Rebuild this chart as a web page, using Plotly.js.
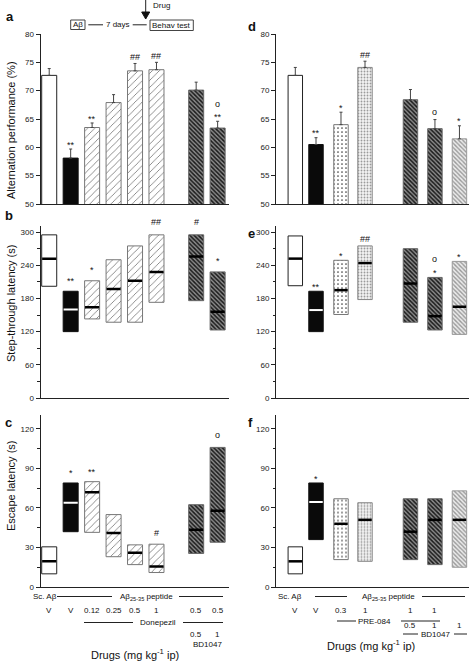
<!DOCTYPE html>
<html><head><meta charset="utf-8">
<script src="https://cdn.plot.ly/plotly-3.0.1.min.js"></script>
<style>html,body{margin:0;padding:0;background:#fff;} #chart{width:471px;height:662px;}</style>
</head><body><div id="chart"></div>
<script>
// ---------------- DATA ----------------
const groupsLeft  = ['Sc. Aβ V', 'Aβ V', 'Donepezil 0.12', 'Donepezil 0.25', 'Donepezil 0.5', 'Donepezil 1', 'Donepezil 0.5 + BD1047 0.5', 'Donepezil 0.5 + BD1047 1'];
const groupsRight = ['Sc. Aβ V', 'Aβ V', 'PRE-084 0.3', 'PRE-084 1', 'PRE-084 1 + BD1047 0.5', 'PRE-084 1 + BD1047 1', 'BD1047 1'];

// (a) alternation performance, mean and SEM (%)
const altMeanA = [72.7, 58.1, 63.5, 67.9, 73.5, 73.7, 70.1, 63.4];
const altSemA  = [1.2, 1.6, 0.8, 1.4, 1.3, 1.3, 1.4, 1.2];
const altSigA  = ['', '**', '**', '', '##', '##', '', '**'];
const altSig2A = ['', '', '', '', '', '', '', 'o'];
// (d)
const altMeanD = [72.7, 60.5, 64.0, 74.1, 68.4, 63.3, 61.5];
const altSemD  = [1.4, 1.2, 2.2, 1.1, 1.8, 1.6, 2.3];
const altSigD  = ['', '**', '*', '##', '', 'o', '*'];

// (b) step-through latency (s): median and interquartile range
const stlLowB  = [202, 120, 143, 137, 137, 173, 176, 123];
const stlMedB  = [252, 160, 164, 197, 212, 228, 256, 156];
const stlHighB = [295, 193, 212, 250, 275, 295, 295, 228];
const stlSigB  = ['', '**', '*', '', '', '##', '#', '*'];
// (e)
const stlLowE  = [203, 120, 151, 178, 137, 123, 115];
const stlMedE  = [252, 159, 195, 244, 207, 148, 165];
const stlHighE = [293, 193, 249, 275, 270, 218, 247];
const stlSigE  = ['', '**', '*', '##', '', '*', '*'];
const stlSig2E = ['', '', '', '', '', 'o', ''];

// (c) escape latency (s): median and interquartile range
const escLowC  = [10, 42, 41.5, 23, 17, 11, 25.5, 34];
const escMedC  = [19.5, 64, 72, 41, 26, 15.5, 43.5, 58];
const escHighC = [30.5, 79, 80, 55, 32, 32.5, 62.5, 106];
const escSigC  = ['', '*', '**', '', '', '#', '', 'o'];
// (f)
const escLowF  = [10, 36, 20.8, 19.5, 20.8, 17, 15];
const escMedF  = [19.5, 64.5, 48, 51, 42, 51, 51];
const escHighF = [30.5, 79, 67, 64, 67, 67, 73];
const escSigF  = ['', '*', '', '', '', '', ''];

// x-axis label rows
const doseRowLeft  = ['V', 'V', '0.12', '0.25', '0.5', '1', '0.5', '0.5'];
const bdRowLeft    = ['', '', '', '', '', '', '0.5', '1'];
const doseRowRight = ['V', 'V', '0.3', '1', '1', '1', ''];
const bdRowRight   = ['', '', '', '', '0.5', '1', '1'];

// ---------------- LAYOUT CONSTANTS ----------------
const W = 471, H = 662;
const FONT = '"Liberation Sans", Arial, Helvetica, sans-serif';
const px = x => x / W;
const py = y => 1 - y / H;

const slotsLeft  = [0, 1, 2, 3, 4, 5, 6.85, 7.85];
const slotsRight = [0, 0.845, 1.865, 2.845, 4.7, 5.7, 6.7];
const widthLeft = 0.70, widthRight = 0.59;
const stylesLeft  = ['white', 'black', 'hatch', 'hatch', 'hatch', 'hatch', 'dense', 'dense'];
const stylesRight = ['white', 'black', 'dots', 'dots2', 'dense', 'dense', 'light'];
const STYLE = {
  white: {color: '#ffffff', shape: '',   fg: '#000', size: 8, sol: 0.3,  line: '#222'},
  black: {color: '#0a0a0a', shape: '',   fg: '#000', size: 8, sol: 0.3,  line: '#111'},
  hatch: {color: '#ffffff', shape: '/',  fg: '#555', size: 5, sol: 0.13, line: '#777'},
  dense: {color: '#8c8c8c', shape: '\\', fg: '#1a1a1a', size: 3, sol: 0.5, line: '#666'},
  dots:  {color: '#ffffff', shape: '.',  fg: '#444', size: 4, sol: 0.15, line: '#777'},
  dots2: {color: '#f4f4f4', shape: '.',  fg: '#9a9a9a', size: 3, sol: 0.3,  line: '#888'},
  light: {color: '#ebebeb', shape: '\\', fg: '#999999', size: 3, sol: 0.45, line: '#999'}
};

// one trace per bar so each one keeps its own pattern colours
function barTraces(xa, ya, slots, styles, width, y, base, err) {
  return slots.map((s, i) => {
    const st = STYLE[styles[i]];
    const t = {
      type: 'bar', xaxis: xa, yaxis: ya, x: [s], y: [y[i]], width: width,
      marker: {color: st.color, line: {color: st.line, width: 1}},
      hoverinfo: 'skip', showlegend: false
    };
    if (st.shape) t.marker.pattern = {shape: st.shape, fgcolor: st.fg, bgcolor: st.color, size: st.size,
                                      solidity: st.sol, fillmode: 'replace'};
    if (base) t.base = [base[i]];
    if (err) t.error_y = {type: 'data', symmetric: false, array: [err[i]], arrayminus: [0],
                          color: '#444', thickness: 1, width: 1.5};
    return t;
  });
}
function boxTraces(xa, ya, slots, styles, width, low, med, high) {
  const out = barTraces(xa, ya, slots, styles, width, high.map((h, i) => h - low[i]), low, null);
  const dk = {x: [], y: []}, lt = {x: [], y: []};
  slots.forEach((s, i) => {
    const t = styles[i] === 'black' ? lt : dk;
    t.x.push(s - width / 2 + 0.02, s + width / 2 - 0.02, null);
    t.y.push(med[i], med[i], null);
  });
  out.push({type: 'scatter', mode: 'lines', xaxis: xa, yaxis: ya, x: dk.x, y: dk.y,
            line: {color: '#000', width: 2.5}, hoverinfo: 'skip', showlegend: false});
  out.push({type: 'scatter', mode: 'lines', xaxis: xa, yaxis: ya, x: lt.x, y: lt.y,
            line: {color: '#fff', width: 2}, hoverinfo: 'skip', showlegend: false});
  return out;
}
const GLYPH = {'*': 8.5, '#': 6.5, 'o': 5.5};
function sigAnns(xref, yref, slots, tops, labels, gap) {
  const out = [];
  labels.forEach((lab, i) => {
    if (!lab) return;
    out.push({xref: xref, yref: yref, x: slots[i], y: tops[i], text: lab, showarrow: false,
              yanchor: 'bottom', yshift: gap - GLYPH[lab[0]],
              font: {family: FONT, size: 9, color: '#111'}});
  });
  return out;
}

const traces = [];
traces.push(...barTraces('x', 'y', slotsLeft, stylesLeft, widthLeft, altMeanA, null, altSemA));
traces.push(...barTraces('x2', 'y2', slotsRight, stylesRight, widthRight, altMeanD, null, altSemD));
traces.push(...boxTraces('x3', 'y3', slotsLeft, stylesLeft, widthLeft, stlLowB, stlMedB, stlHighB));
traces.push(...boxTraces('x4', 'y4', slotsRight, stylesRight, widthRight, stlLowE, stlMedE, stlHighE));
traces.push(...boxTraces('x5', 'y5', slotsLeft, stylesLeft, widthLeft, escLowC, escMedC, escHighC));
traces.push(...boxTraces('x6', 'y6', slotsRight, stylesRight, widthRight, escLowF, escMedF, escHighF));

const yBase = {showline: true, linecolor: '#222', linewidth: 1, ticks: 'outside', ticklen: 4, tickcolor: '#222',
  tickwidth: 1, tickfont: {family: FONT, size: 8, color: '#222'}, showgrid: false, zeroline: false, fixedrange: true};
const xBase = {showline: true, linecolor: '#222', linewidth: 1, ticks: '', showticklabels: false,
  showgrid: false, zeroline: false, fixedrange: true};
const xL = {...xBase, domain: [px(40.5), px(229)], range: [-0.406, 8.38]};
const xR = {...xBase, domain: [px(276), px(469)], range: [-0.788, 7.09]};
const rowA = [py(204), py(34)], rowB = [py(398), py(226)], rowC = [py(587), py(414.5)];
const yAlt = {...yBase, range: [50, 80], dtick: 5, tick0: 50};
const yStl = {...yBase, range: [0, 311], dtick: 60, tick0: 0, minor: {dtick: 30, ticklen: 2.5, tickcolor: '#222', ticks: 'outside'}};
const yEsc = {...yBase, range: [0, 131], dtick: 30, tick0: 0, minor: {dtick: 15, ticklen: 2.5, tickcolor: '#222', ticks: 'outside'}};

const anns = [];
const A = (x, y, text, size, extra) => anns.push(Object.assign({xref: 'paper', yref: 'paper', x: px(x), y: py(y),
  text: text, showarrow: false, font: {family: FONT, size: size, color: '#111'}, xanchor: 'center', yanchor: 'middle'}, extra || {}));
// panel letters
A(4, 16, '<b>a</b>', 13, {xanchor: 'left'});
A(246, 26, '<b>d</b>', 13, {xanchor: 'left'});
A(3, 215, '<b>b</b>', 13, {xanchor: 'left'});
A(246, 233, '<b>e</b>', 13, {xanchor: 'left'});
A(3, 423, '<b>c</b>', 13, {xanchor: 'left'});
A(246, 423, '<b>f</b>', 13, {xanchor: 'left'});
// y titles
A(11, 130, 'Alternation performance (%)', 11, {textangle: -90});
A(11, 304, 'Step-through latency (s)', 11, {textangle: -90});
A(11, 486, 'Escape latency (s)', 11, {textangle: -90});
// schematic
A(151, 5.5, 'Drug', 8, {xanchor: 'left'});
A(77.8, 24.8, 'Aβ', 8);
A(118, 24.8, '7 days', 8);
A(171.7, 25.2, 'Behav test', 8);

// significance marks
const topsA = altMeanA.map((m, i) => m + altSemA[i]);
const topsD = altMeanD.map((m, i) => m + altSemD[i]);
anns.push(...sigAnns('x', 'y', slotsLeft, topsA, altSigA, 5.5));
anns.push(...sigAnns('x', 'y', slotsLeft, topsA, altSig2A, 16));
anns.push(...sigAnns('x2', 'y2', slotsRight, topsD, altSigD, 6));
anns.push(...sigAnns('x3', 'y3', slotsLeft, stlHighB, stlSigB, 12));
anns.push(...sigAnns('x4', 'y4', slotsRight, stlHighE, stlSigE, 6));
anns.push(...sigAnns('x4', 'y4', slotsRight, stlHighE, stlSig2E, 17));
anns.push(...sigAnns('x5', 'y5', slotsLeft, escHighC, escSigC, 11));
anns.push(...sigAnns('x6', 'y6', slotsRight, escHighF, escSigF, 5));

// x label rows
const rowAnn = (xref, slots, labels, y) => labels.forEach((l, i) => { if (l) anns.push({xref: xref, yref: 'paper',
  x: slots[i], y: py(y), text: l, showarrow: false, yanchor: 'middle', font: {family: FONT, size: 8, color: '#111'}}); });
rowAnn('x5', slotsLeft, doseRowLeft, 610.5);
rowAnn('x5', slotsLeft, bdRowLeft, 634);
rowAnn('x6', slotsRight, doseRowRight, 610.5);
rowAnn('x6', slotsRight, bdRowRight, 625.5);
A(45, 596.5, 'Sc. Aβ', 8);
A(146, 596.5, 'Aβ<sub>25-35</sub> peptide', 8);
A(158, 622.5, 'Donepezil', 8);
A(207.5, 644.5, 'BD1047', 8);
A(135, 654, 'Drugs (mg kg<sup>-1</sup> ip)', 11);
A(289.5, 596.5, 'Sc. Aβ', 8);
A(388, 596.5, 'Aβ<sub>25-35</sub> peptide', 8);
A(374.5, 621, 'PRE-084', 8);
A(435, 634, 'BD1047', 8);
A(371, 645, 'Drugs (mg kg<sup>-1</sup> ip)', 11);

const shapes = [];
const L = (x0, y0, x1, y1, c) => shapes.push({type: 'line', xref: 'paper', yref: 'paper', x0: px(x0), y0: py(y0),
  x1: px(x1), y1: py(y1), line: {color: c || '#222', width: 1}});
// row lines left
L(57, 596.5, 112, 596.5); L(179, 596.5, 223, 596.5);
L(84, 622.5, 133, 622.5); L(183, 622.5, 223, 622.5);
// row lines right
L(315, 596.5, 347, 596.5); L(422, 596.5, 465, 596.5);
L(337, 621, 356, 621); L(401, 621, 440, 621);
L(403, 634, 418, 634); L(454, 634, 467, 634);
// schematic
shapes.push({type: 'rect', xref: 'paper', yref: 'paper', x0: px(70.7), x1: px(85), y0: py(20), y1: py(29.5), line: {color: '#444', width: 1}});
shapes.push({type: 'rect', xref: 'paper', yref: 'paper', x0: px(150), x1: px(193.3), y0: py(20), y1: py(30.5), line: {color: '#444', width: 1}});
L(88.3, 24.8, 103, 24.8); L(132.7, 24.8, 146.7, 24.8);
L(145.7, 0, 145.7, 13);
shapes.push({type: 'path', xref: 'paper', yref: 'paper',
  path: `M${px(141.7)},${py(12)} L${px(149.7)},${py(12)} L${px(145.7)},${py(19)} Z`, fillcolor: '#111', line: {color: '#111', width: 1}});

const layout = {
  width: W, height: H, margin: {l: 0, r: 0, t: 0, b: 0}, paper_bgcolor: '#fff', plot_bgcolor: 'rgba(0,0,0,0)',
  showlegend: false, barmode: 'overlay', font: {family: FONT, color: '#111'},
  xaxis:  {...xL, anchor: 'y'},  yaxis:  {...yAlt, domain: rowA, anchor: 'x'},
  xaxis2: {...xR, anchor: 'y2'}, yaxis2: {...yAlt, domain: rowA, anchor: 'x2'},
  xaxis3: {...xL, anchor: 'y3'}, yaxis3: {...yStl, domain: rowB, anchor: 'x3'},
  xaxis4: {...xR, anchor: 'y4'}, yaxis4: {...yStl, domain: rowB, anchor: 'x4'},
  xaxis5: {...xL, anchor: 'y5'}, yaxis5: {...yEsc, domain: rowC, anchor: 'x5'},
  xaxis6: {...xR, anchor: 'y6'}, yaxis6: {...yEsc, domain: rowC, anchor: 'x6'},
  annotations: anns, shapes: shapes
};
Plotly.newPlot('chart', traces, layout, {staticPlot: true});
</script></body></html>
